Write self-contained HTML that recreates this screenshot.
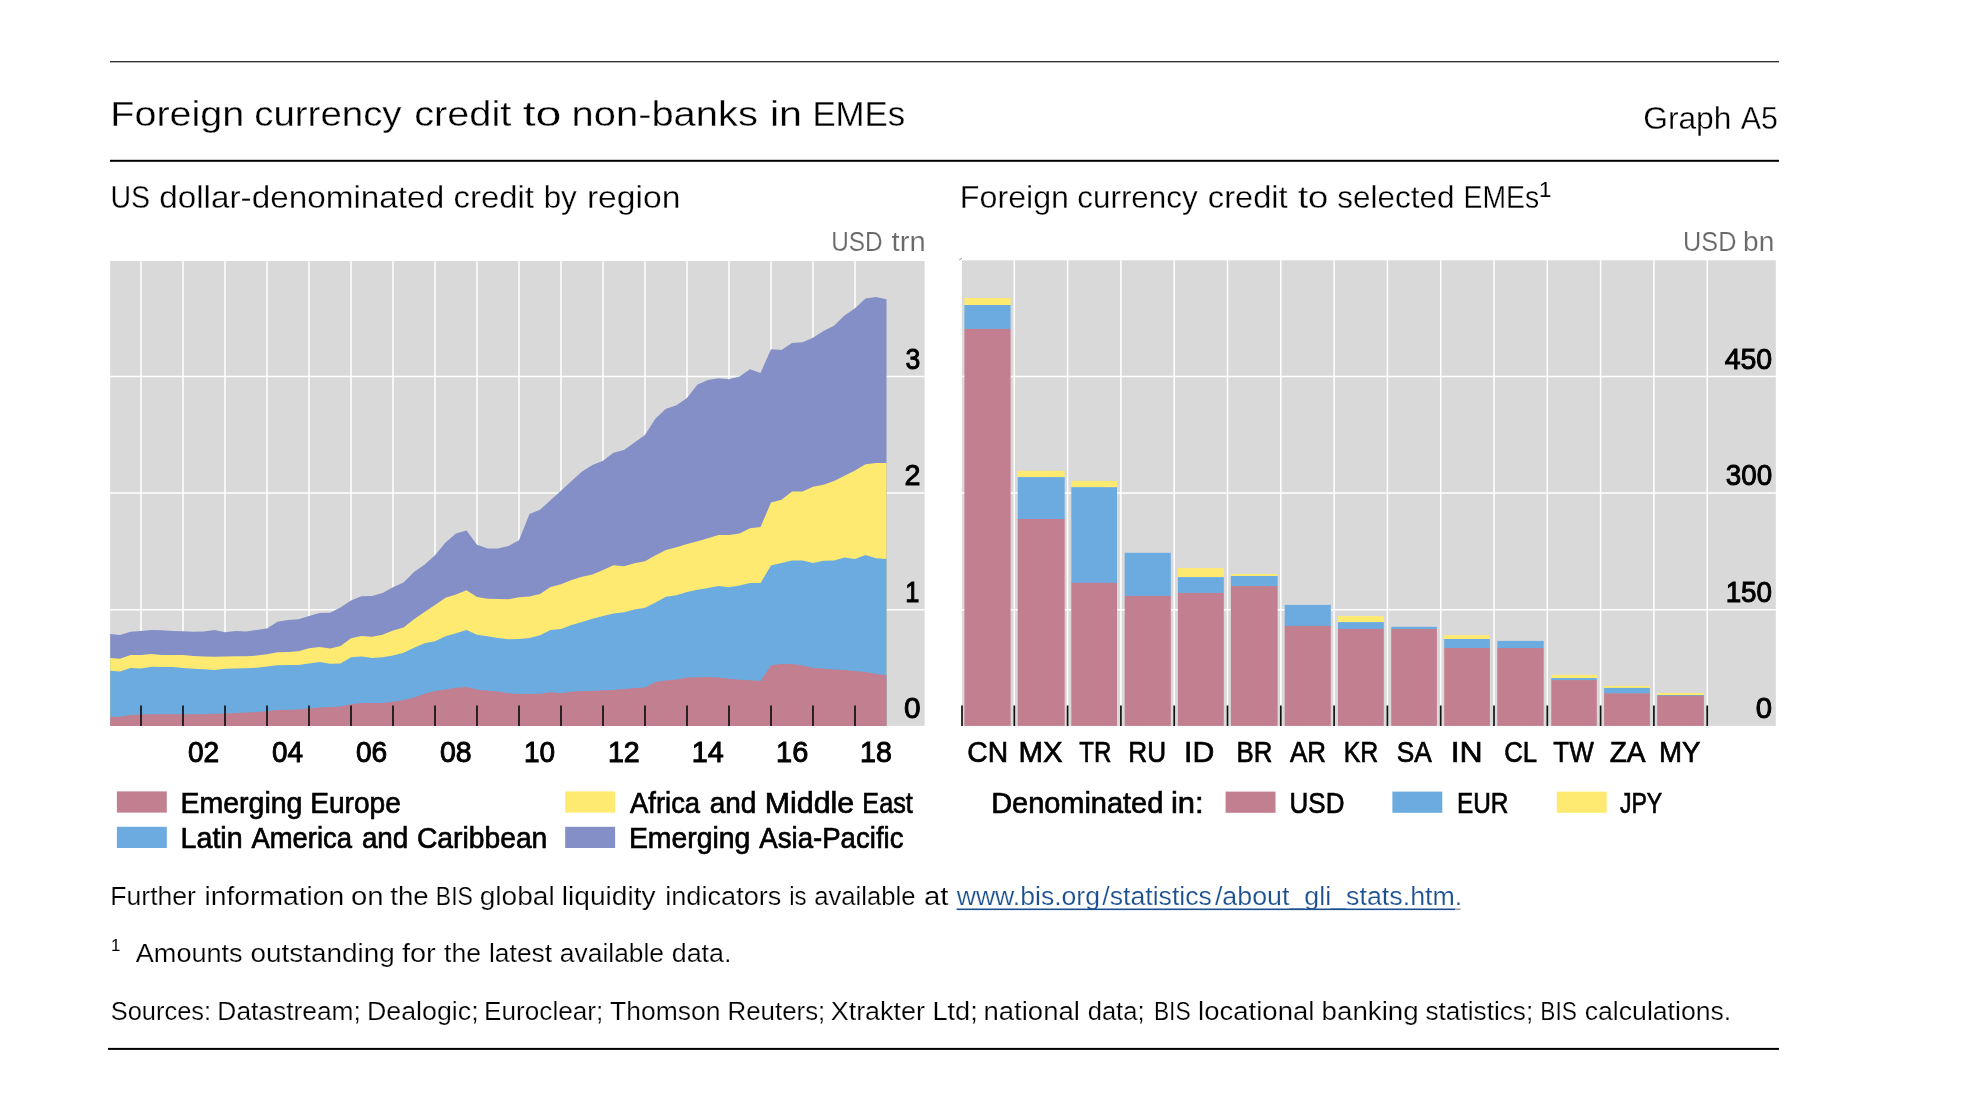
<!DOCTYPE html>
<html lang="en"><head><meta charset="utf-8"><title>Foreign currency credit to non-banks in EMEs</title>
<style>html,body{margin:0;padding:0;background:#fff;overflow:hidden}svg{display:block;will-change:transform}text{font-family:"Liberation Sans",sans-serif;fill:#000;stroke:#fff;stroke-width:.3px}.b{stroke:#000;stroke-width:.7px;font-size:30.4px}.d{font-size:28.6px;stroke-width:.95px}.g{fill:#6a6a6a;font-size:26.9px;stroke-width:.15px}.f{font-size:25px;stroke-width:.2px}.l{fill:#1b4f8f}.n{stroke:none}</style></head><body>
<svg width="1963" height="1101" viewBox="0 0 1963 1101">
<rect width="1963" height="1101" fill="#fff"/>
<rect x="110" y="61.2" width="1669" height="1.1" fill="#000"/>
<rect x="110" y="159.8" width="1669" height="2" fill="#000"/>
<rect x="108" y="1047.9" width="1671" height="2" fill="#000"/>
<text y="125.7" font-size="35.4px"><tspan x="110.31" textLength="133.90" lengthAdjust="spacingAndGlyphs">Foreign</tspan> <tspan x="254.20" textLength="147.40" lengthAdjust="spacingAndGlyphs">currency</tspan> <tspan x="414.16" textLength="97.11" lengthAdjust="spacingAndGlyphs">credit</tspan> <tspan x="522.70" textLength="38.68" lengthAdjust="spacingAndGlyphs">to</tspan> <tspan x="571.61" textLength="186.24" lengthAdjust="spacingAndGlyphs">non-banks</tspan> <tspan x="769.92" textLength="32.09" lengthAdjust="spacingAndGlyphs">in</tspan> <tspan x="812.38" textLength="92.81" lengthAdjust="spacingAndGlyphs">EMEs</tspan></text>
<text y="129.1" font-size="31.7px"><tspan x="1643.21" textLength="88.17" lengthAdjust="spacingAndGlyphs">Graph</tspan> <tspan x="1740.80" textLength="37.13" lengthAdjust="spacingAndGlyphs">A5</tspan></text>
<text y="207.6" font-size="31.4px"><tspan x="110.41" textLength="39.69" lengthAdjust="spacingAndGlyphs">US</tspan> <tspan x="159.16" textLength="285.01" lengthAdjust="spacingAndGlyphs">dollar-denominated</tspan> <tspan x="453.57" textLength="80.31" lengthAdjust="spacingAndGlyphs">credit</tspan> <tspan x="543.64" textLength="33.16" lengthAdjust="spacingAndGlyphs">by</tspan> <tspan x="586.90" textLength="93.60" lengthAdjust="spacingAndGlyphs">region</tspan></text>
<text y="207.6" font-size="31.4px"><tspan x="959.89" textLength="109.12" lengthAdjust="spacingAndGlyphs">Foreign</tspan> <tspan x="1077.32" textLength="120.38" lengthAdjust="spacingAndGlyphs">currency</tspan> <tspan x="1207.88" textLength="79.81" lengthAdjust="spacingAndGlyphs">credit</tspan> <tspan x="1298.00" textLength="30.38" lengthAdjust="spacingAndGlyphs">to</tspan> <tspan x="1337.31" textLength="117.26" lengthAdjust="spacingAndGlyphs">selected</tspan> <tspan x="1463.59" textLength="75.60" lengthAdjust="spacingAndGlyphs">EMEs</tspan></text>
<text x="1539.1" y="197.2" font-size="22.3px" class="n">1</text>
<text y="251.4" class="g"><tspan x="831.18" textLength="51.47" lengthAdjust="spacingAndGlyphs">USD</tspan> <tspan x="891.60" textLength="34.04" lengthAdjust="spacingAndGlyphs">trn</tspan></text>
<text y="251.4" class="g"><tspan x="1683.12" textLength="53.36" lengthAdjust="spacingAndGlyphs">USD</tspan> <tspan x="1743.05" textLength="31.23" lengthAdjust="spacingAndGlyphs">bn</tspan></text>
<rect x="110.2" y="261.0" width="814.4" height="464.9" fill="#d9d9d9"/>
<path d="M141 261.0V725.9M183 261.0V725.9M225 261.0V725.9M267 261.0V725.9M309 261.0V725.9M351 261.0V725.9M393 261.0V725.9M435 261.0V725.9M477 261.0V725.9M519 261.0V725.9M561 261.0V725.9M603 261.0V725.9M645 261.0V725.9M687 261.0V725.9M729 261.0V725.9M771 261.0V725.9M813 261.0V725.9M855 261.0V725.9M110.2 376.6H924.6M110.2 493.0H924.6M110.2 609.7H924.6" stroke="#fff" stroke-width="1.5" fill="none"/>
<path d="M110.2 633.9L120.0 634.9L130.5 631.7L141.0 630.9L151.5 630.1L162.0 630.3L172.5 630.9L183.0 631.2L193.5 631.7L204.0 631.4L214.5 630.1L225.0 632.2L235.5 630.9L246.0 631.4L256.5 629.9L267.0 628.4L277.5 621.8L288.0 620.0L298.5 619.2L309.0 615.9L319.5 613.1L330.0 612.7L340.5 607.4L351.0 600.5L361.5 596.3L372.0 595.9L382.5 592.9L393.0 587.3L403.5 582.6L414.0 571.9L424.5 564.8L435.0 555.3L445.5 542.5L456.0 533.4L466.5 530.5L477.0 544.8L487.5 548.6L498.0 548.6L508.5 546.0L519.0 540.2L529.5 514.1L540.0 509.7L550.5 500.2L561.0 490.7L571.5 481.1L582.0 471.6L592.5 464.9L603.0 460.7L613.5 452.7L624.0 450.0L634.5 442.4L645.0 435.0L655.5 418.4L666.0 408.8L676.5 405.2L687.0 398.1L697.5 384.5L708.0 379.9L718.5 378.2L729.0 379.3L739.5 376.5L750.0 369.2L760.5 373.0L771.0 349.2L781.5 350.1L792.0 342.9L802.5 342.3L813.0 337.7L823.5 331.1L834.0 325.7L844.5 315.6L855.0 308.2L865.5 298.6L876.0 296.9L886.5 299.2L886.5 725.9L110.2 725.9Z" fill="#838fc6"/>
<path d="M110.2 658.0L120.0 658.8L130.5 655.1L141.0 655.1L151.5 654.0L162.0 655.0L172.5 655.1L183.0 655.1L193.5 655.9L204.0 656.4L214.5 656.8L225.0 656.4L235.5 656.2L246.0 656.2L256.5 655.6L267.0 654.2L277.5 652.3L288.0 651.9L298.5 651.2L309.0 648.2L319.5 647.0L330.0 648.6L340.5 645.9L351.0 638.3L361.5 636.0L372.0 636.7L382.5 634.8L393.0 630.6L403.5 627.4L414.0 619.2L424.5 612.1L435.0 604.9L445.5 597.8L456.0 594.4L466.5 590.2L477.0 596.9L487.5 598.8L498.0 599.0L508.5 599.3L519.0 597.2L529.5 596.5L540.0 594.0L550.5 587.1L561.0 584.3L571.5 580.1L582.0 576.8L592.5 574.5L603.0 570.0L613.5 565.2L624.0 566.2L634.5 563.3L645.0 561.2L655.5 555.3L666.0 550.1L676.5 547.3L687.0 544.0L697.5 541.2L708.0 538.3L718.5 534.9L729.0 534.9L739.5 533.4L750.0 528.2L760.5 527.1L771.0 502.5L781.5 499.8L792.0 491.4L802.5 491.4L813.0 486.8L823.5 484.7L834.0 481.1L844.5 475.8L855.0 470.6L865.5 464.3L876.0 463.0L886.5 463.0L886.5 725.9L110.2 725.9Z" fill="#feea71"/>
<path d="M110.2 670.7L120.0 671.5L130.5 668.1L141.0 668.4L151.5 666.8L162.0 666.9L172.5 667.1L183.0 667.9L193.5 668.7L204.0 669.3L214.5 670.0L225.0 668.8L235.5 668.4L246.0 668.3L256.5 667.7L267.0 666.5L277.5 665.3L288.0 665.1L298.5 665.0L309.0 663.6L319.5 662.1L330.0 663.8L340.5 663.4L351.0 657.3L361.5 656.4L372.0 658.1L382.5 657.3L393.0 655.4L403.5 652.7L414.0 647.8L424.5 643.2L435.0 641.3L445.5 636.3L456.0 633.3L466.5 629.9L477.0 634.8L487.5 636.3L498.0 637.9L508.5 639.2L519.0 639.0L529.5 637.9L540.0 635.2L550.5 630.1L561.0 629.1L571.5 625.1L582.0 621.9L592.5 618.8L603.0 616.1L613.5 613.5L624.0 612.3L634.5 609.6L645.0 607.7L655.5 602.4L666.0 596.7L676.5 595.3L687.0 591.9L697.5 589.8L708.0 587.9L718.5 586.0L729.0 587.2L739.5 585.4L750.0 583.0L760.5 583.0L771.0 565.4L781.5 563.1L792.0 560.5L802.5 560.5L813.0 562.9L823.5 560.8L834.0 560.5L844.5 557.4L855.0 559.1L865.5 555.1L876.0 558.2L886.5 559.1L886.5 725.9L110.2 725.9Z" fill="#6cabe0"/>
<path d="M110.2 716.8L120.0 716.8L130.5 715.0L141.0 714.5L151.5 714.3L162.0 714.3L172.5 714.3L183.0 714.3L193.5 714.3L204.0 714.2L214.5 713.8L225.0 713.6L235.5 712.9L246.0 712.6L256.5 712.1L267.0 711.3L277.5 710.0L288.0 709.8L298.5 709.6L309.0 708.4L319.5 707.5L330.0 707.1L340.5 706.5L351.0 704.2L361.5 702.9L372.0 702.9L382.5 703.1L393.0 701.8L403.5 699.9L414.0 697.4L424.5 693.8L435.0 691.1L445.5 689.4L456.0 687.8L466.5 687.1L477.0 689.6L487.5 690.7L498.0 691.5L508.5 693.2L519.0 693.9L529.5 693.9L540.0 693.8L550.5 692.2L561.0 693.2L571.5 691.8L582.0 691.1L592.5 691.1L603.0 690.3L613.5 689.9L624.0 689.0L634.5 688.0L645.0 687.5L655.5 682.1L666.0 680.6L676.5 679.5L687.0 677.4L697.5 677.2L708.0 676.9L718.5 677.5L729.0 678.8L739.5 679.7L750.0 680.3L760.5 681.1L771.0 665.3L781.5 664.1L792.0 664.1L802.5 665.5L813.0 667.9L823.5 668.4L834.0 669.5L844.5 670.1L855.0 671.0L865.5 672.0L876.0 674.1L886.5 675.2L886.5 725.9L110.2 725.9Z" fill="#c27f90"/>
<path d="M141 705.5V725.9M183 705.5V725.9M225 705.5V725.9M267 705.5V725.9M309 705.5V725.9M351 705.5V725.9M393 705.5V725.9M435 705.5V725.9M477 705.5V725.9M519 705.5V725.9M561 705.5V725.9M603 705.5V725.9M645 705.5V725.9M687 705.5V725.9M729 705.5V725.9M771 705.5V725.9M813 705.5V725.9M855 705.5V725.9" stroke="#111" stroke-width="1.7" fill="none"/>
<text y="718.1" class="b d"><tspan x="903.95" textLength="16.60" lengthAdjust="spacingAndGlyphs">0</tspan></text>
<text y="601.7" class="b d"><tspan x="905.16" textLength="14.13" lengthAdjust="spacingAndGlyphs">1</tspan></text>
<text y="485.0" class="b d"><tspan x="904.43" textLength="15.96" lengthAdjust="spacingAndGlyphs">2</tspan></text>
<text y="368.6" class="b d"><tspan x="905.42" textLength="14.80" lengthAdjust="spacingAndGlyphs">3</tspan></text>
<text y="761.5" class="b d"><tspan x="187.99" textLength="31.28" lengthAdjust="spacingAndGlyphs">02</tspan> <tspan x="272.10" textLength="31.03" lengthAdjust="spacingAndGlyphs">04</tspan> <tspan x="355.99" textLength="31.28" lengthAdjust="spacingAndGlyphs">06</tspan> <tspan x="439.88" textLength="31.70" lengthAdjust="spacingAndGlyphs">08</tspan> <tspan x="523.92" textLength="31.11" lengthAdjust="spacingAndGlyphs">10</tspan> <tspan x="607.89" textLength="31.80" lengthAdjust="spacingAndGlyphs">12</tspan> <tspan x="691.88" textLength="31.96" lengthAdjust="spacingAndGlyphs">14</tspan> <tspan x="776.07" textLength="32.23" lengthAdjust="spacingAndGlyphs">16</tspan> <tspan x="860.09" textLength="31.80" lengthAdjust="spacingAndGlyphs">18</tspan></text>
<rect x="961.8" y="260.3" width="814.0" height="465.6" fill="#d9d9d9"/>
<path d="M959.3 259.9L961.9 258.4" stroke="#7a7a7a" stroke-width="0.9" fill="none"/>
<path d="M1014.3 260.3V725.9M1067.6 260.3V725.9M1120.9 260.3V725.9M1174.2 260.3V725.9M1227.5 260.3V725.9M1280.8 260.3V725.9M1334.1 260.3V725.9M1387.4 260.3V725.9M1440.7 260.3V725.9M1494.0 260.3V725.9M1547.3 260.3V725.9M1600.6 260.3V725.9M1653.9 260.3V725.9M1707.2 260.3V725.9M961.8 376.6H1775.8M961.8 493.0H1775.8M961.8 609.7H1775.8" stroke="#fff" stroke-width="1.5" fill="none"/>
<rect x="964.4" y="298.0" width="46.2" height="7.5" fill="#feea71"/>
<rect x="964.4" y="305.0" width="46.2" height="24.4" fill="#6cabe0"/>
<rect x="964.4" y="328.9" width="46.2" height="397.0" fill="#c27f90"/>
<rect x="1017.7" y="470.8" width="47.0" height="6.8" fill="#feea71"/>
<rect x="1017.7" y="477.1" width="47.0" height="42.4" fill="#6cabe0"/>
<rect x="1017.7" y="519.0" width="47.0" height="206.9" fill="#c27f90"/>
<rect x="1071.3" y="480.9" width="45.7" height="6.8" fill="#feea71"/>
<rect x="1071.3" y="487.2" width="45.7" height="96.1" fill="#6cabe0"/>
<rect x="1071.3" y="582.8" width="45.7" height="143.1" fill="#c27f90"/>
<rect x="1124.7" y="552.8" width="46.1" height="43.6" fill="#6cabe0"/>
<rect x="1124.7" y="595.9" width="46.1" height="130.0" fill="#c27f90"/>
<rect x="1177.9" y="568.1" width="45.9" height="9.5" fill="#feea71"/>
<rect x="1177.9" y="577.1" width="45.9" height="16.3" fill="#6cabe0"/>
<rect x="1177.9" y="592.9" width="45.9" height="133.0" fill="#c27f90"/>
<rect x="1230.9" y="574.1" width="46.7" height="2.4" fill="#feea71"/>
<rect x="1230.9" y="576.0" width="46.7" height="10.6" fill="#6cabe0"/>
<rect x="1230.9" y="586.1" width="46.7" height="139.8" fill="#c27f90"/>
<rect x="1284.7" y="604.9" width="46.1" height="21.5" fill="#6cabe0"/>
<rect x="1284.7" y="625.9" width="46.1" height="100.0" fill="#c27f90"/>
<rect x="1338.0" y="616.1" width="45.8" height="6.5" fill="#feea71"/>
<rect x="1338.0" y="622.1" width="45.8" height="7.3" fill="#6cabe0"/>
<rect x="1338.0" y="628.9" width="45.8" height="97.0" fill="#c27f90"/>
<rect x="1391.2" y="626.8" width="45.7" height="2.7" fill="#6cabe0"/>
<rect x="1391.2" y="629.0" width="45.7" height="96.9" fill="#c27f90"/>
<rect x="1444.2" y="635.1" width="45.7" height="4.4" fill="#feea71"/>
<rect x="1444.2" y="639.0" width="45.7" height="9.5" fill="#6cabe0"/>
<rect x="1444.2" y="648.0" width="45.7" height="77.9" fill="#c27f90"/>
<rect x="1497.3" y="640.9" width="46.4" height="7.6" fill="#6cabe0"/>
<rect x="1497.3" y="648.0" width="46.4" height="77.9" fill="#c27f90"/>
<rect x="1551.3" y="674.9" width="45.5" height="3.7" fill="#feea71"/>
<rect x="1551.3" y="678.1" width="45.5" height="2.5" fill="#6cabe0"/>
<rect x="1551.3" y="680.1" width="45.5" height="45.8" fill="#c27f90"/>
<rect x="1604.1" y="685.9" width="45.8" height="2.5" fill="#feea71"/>
<rect x="1604.1" y="687.9" width="45.8" height="5.9" fill="#6cabe0"/>
<rect x="1604.1" y="693.3" width="45.8" height="32.6" fill="#c27f90"/>
<rect x="1657.2" y="693.0" width="46.7" height="2.5" fill="#feea71"/>
<rect x="1657.2" y="695.0" width="46.7" height="1.2" fill="#6cabe0"/>
<rect x="1657.2" y="695.7" width="46.7" height="30.2" fill="#c27f90"/>
<path d="M962.0 705.5V725.9M1014.3 705.5V725.9M1067.6 705.5V725.9M1120.9 705.5V725.9M1174.2 705.5V725.9M1227.5 705.5V725.9M1280.8 705.5V725.9M1334.1 705.5V725.9M1387.4 705.5V725.9M1440.7 705.5V725.9M1494.0 705.5V725.9M1547.3 705.5V725.9M1600.6 705.5V725.9M1653.9 705.5V725.9M1707.2 705.5V725.9" stroke="#111" stroke-width="1.7" fill="none"/>
<text y="718.1" class="b d"><tspan x="1755.87" textLength="16.28" lengthAdjust="spacingAndGlyphs">0</tspan></text>
<text y="601.7" class="b d"><tspan x="1725.63" textLength="46.50" lengthAdjust="spacingAndGlyphs">150</tspan></text>
<text y="485.0" class="b d"><tspan x="1725.70" textLength="46.43" lengthAdjust="spacingAndGlyphs">300</tspan></text>
<text y="368.6" class="b d"><tspan x="1724.63" textLength="47.51" lengthAdjust="spacingAndGlyphs">450</tspan></text>
<text y="762.4" class="b"><tspan x="967.33" textLength="40.82" lengthAdjust="spacingAndGlyphs">CN</tspan> <tspan x="1018.57" textLength="44.08" lengthAdjust="spacingAndGlyphs">MX</tspan> <tspan x="1079.34" textLength="32.07" lengthAdjust="spacingAndGlyphs">TR</tspan> <tspan x="1128.29" textLength="37.80" lengthAdjust="spacingAndGlyphs">RU</tspan> <tspan x="1184.11" textLength="30.27" lengthAdjust="spacingAndGlyphs">ID</tspan> <tspan x="1236.52" textLength="35.84" lengthAdjust="spacingAndGlyphs">BR</tspan> <tspan x="1289.94" textLength="36.13" lengthAdjust="spacingAndGlyphs">AR</tspan> <tspan x="1343.68" textLength="34.56" lengthAdjust="spacingAndGlyphs">KR</tspan> <tspan x="1396.64" textLength="33.61" lengthAdjust="spacingAndGlyphs">SA</tspan> <tspan x="1450.69" textLength="32.04" lengthAdjust="spacingAndGlyphs">IN</tspan> <tspan x="1504.15" textLength="31.94" lengthAdjust="spacingAndGlyphs">CL</tspan> <tspan x="1553.23" textLength="40.49" lengthAdjust="spacingAndGlyphs">TW</tspan> <tspan x="1609.70" textLength="34.32" lengthAdjust="spacingAndGlyphs">ZA</tspan> <tspan x="1658.99" textLength="41.56" lengthAdjust="spacingAndGlyphs">MY</tspan></text>
<rect x="116.9" y="791.4" width="49.9" height="21.2" fill="#c27f90"/>
<rect x="116.9" y="826.8" width="49.9" height="21.2" fill="#6cabe0"/>
<rect x="565.2" y="791.4" width="49.9" height="21.2" fill="#feea71"/>
<rect x="565.2" y="826.8" width="49.9" height="21.2" fill="#838fc6"/>
<text y="812.9" class="b"><tspan x="180.53" textLength="121.91" lengthAdjust="spacingAndGlyphs">Emerging</tspan> <tspan x="310.16" textLength="90.73" lengthAdjust="spacingAndGlyphs">Europe</tspan></text>
<text y="847.8" class="b"><tspan x="180.52" textLength="62.13" lengthAdjust="spacingAndGlyphs">Latin</tspan> <tspan x="251.45" textLength="100.53" lengthAdjust="spacingAndGlyphs">America</tspan> <tspan x="361.88" textLength="46.43" lengthAdjust="spacingAndGlyphs">and</tspan> <tspan x="416.93" textLength="130.40" lengthAdjust="spacingAndGlyphs">Caribbean</tspan></text>
<text y="812.9" class="b"><tspan x="630.05" textLength="70.03" lengthAdjust="spacingAndGlyphs">Africa</tspan> <tspan x="709.78" textLength="46.64" lengthAdjust="spacingAndGlyphs">and</tspan> <tspan x="764.80" textLength="89.45" lengthAdjust="spacingAndGlyphs">Middle</tspan> <tspan x="862.36" textLength="50.43" lengthAdjust="spacingAndGlyphs">East</tspan></text>
<text y="847.8" class="b"><tspan x="628.94" textLength="121.40" lengthAdjust="spacingAndGlyphs">Emerging</tspan> <tspan x="759.35" textLength="144.13" lengthAdjust="spacingAndGlyphs">Asia-Pacific</tspan></text>
<text y="812.9" class="b"><tspan x="991.20" textLength="172.06" lengthAdjust="spacingAndGlyphs">Denominated</tspan> <tspan x="1170.95" textLength="32.67" lengthAdjust="spacingAndGlyphs">in:</tspan> <tspan x="1289.61" textLength="54.75" lengthAdjust="spacingAndGlyphs">USD</tspan> <tspan x="1456.91" textLength="51.51" lengthAdjust="spacingAndGlyphs">EUR</tspan> <tspan x="1619.95" textLength="42.29" lengthAdjust="spacingAndGlyphs">JPY</tspan></text>
<rect x="1225.6" y="791.6" width="49.9" height="21.2" fill="#c27f90"/>
<rect x="1392.4" y="791.6" width="49.9" height="21.2" fill="#6cabe0"/>
<rect x="1556.8" y="791.6" width="49.9" height="21.2" fill="#feea71"/>
<text y="904.6" class="f"><tspan x="110.38" textLength="85.57" lengthAdjust="spacingAndGlyphs">Further</tspan> <tspan x="204.49" textLength="139.82" lengthAdjust="spacingAndGlyphs">information</tspan> <tspan x="350.93" textLength="32.66" lengthAdjust="spacingAndGlyphs">on</tspan> <tspan x="390.27" textLength="38.35" lengthAdjust="spacingAndGlyphs">the</tspan> <tspan x="435.86" textLength="37.03" lengthAdjust="spacingAndGlyphs">BIS</tspan> <tspan x="479.67" textLength="75.09" lengthAdjust="spacingAndGlyphs">global</tspan> <tspan x="561.80" textLength="93.80" lengthAdjust="spacingAndGlyphs">liquidity</tspan> <tspan x="665.26" textLength="116.11" lengthAdjust="spacingAndGlyphs">indicators</tspan> <tspan x="789.16" textLength="17.41" lengthAdjust="spacingAndGlyphs">is</tspan> <tspan x="814.27" textLength="101.26" lengthAdjust="spacingAndGlyphs">available</tspan> <tspan x="923.92" textLength="24.55" lengthAdjust="spacingAndGlyphs">at</tspan></text>
<text y="904.6" class="f l"><tspan x="956.71" textLength="143.30" lengthAdjust="spacingAndGlyphs">www.bis.org</tspan><tspan x="1102.30" textLength="109.56" lengthAdjust="spacingAndGlyphs">/statistics</tspan><tspan x="1214.90" textLength="247.41" lengthAdjust="spacingAndGlyphs">/about_gli_stats.htm.</tspan></text>
<rect x="956.6" y="908.5" width="498.4" height="1.6" fill="#1b4f8f"/><rect x="1455" y="908.5" width="5.6" height="1.6" fill="#a0a0a0"/>
<text x="111.0" y="950.7" font-size="16.8px" class="n">1</text>
<text y="962.2" class="f"><tspan x="135.80" textLength="106.87" lengthAdjust="spacingAndGlyphs">Amounts</tspan> <tspan x="250.58" textLength="144.20" lengthAdjust="spacingAndGlyphs">outstanding</tspan> <tspan x="401.95" textLength="33.82" lengthAdjust="spacingAndGlyphs">for</tspan> <tspan x="444.08" textLength="36.89" lengthAdjust="spacingAndGlyphs">the</tspan> <tspan x="489.01" textLength="63.14" lengthAdjust="spacingAndGlyphs">latest</tspan> <tspan x="559.84" textLength="104.22" lengthAdjust="spacingAndGlyphs">available</tspan> <tspan x="671.72" textLength="59.79" lengthAdjust="spacingAndGlyphs">data.</tspan></text>
<text y="1020" class="f"><tspan x="110.68" textLength="100.41" lengthAdjust="spacingAndGlyphs">Sources:</tspan> <tspan x="217.39" textLength="143.47" lengthAdjust="spacingAndGlyphs">Datastream;</tspan> <tspan x="367.06" textLength="111.54" lengthAdjust="spacingAndGlyphs">Dealogic;</tspan> <tspan x="484.11" textLength="119.24" lengthAdjust="spacingAndGlyphs">Euroclear;</tspan> <tspan x="610.07" textLength="110.33" lengthAdjust="spacingAndGlyphs">Thomson</tspan> <tspan x="727.43" textLength="97.90" lengthAdjust="spacingAndGlyphs">Reuters;</tspan> <tspan x="830.66" textLength="94.39" lengthAdjust="spacingAndGlyphs">Xtrakter</tspan> <tspan x="932.43" textLength="45.31" lengthAdjust="spacingAndGlyphs">Ltd;</tspan> <tspan x="983.54" textLength="96.28" lengthAdjust="spacingAndGlyphs">national</tspan> <tspan x="1087.68" textLength="56.82" lengthAdjust="spacingAndGlyphs">data;</tspan> <tspan x="1153.88" textLength="36.70" lengthAdjust="spacingAndGlyphs">BIS</tspan> <tspan x="1198.14" textLength="116.28" lengthAdjust="spacingAndGlyphs">locational</tspan> <tspan x="1321.63" textLength="96.95" lengthAdjust="spacingAndGlyphs">banking</tspan> <tspan x="1425.47" textLength="107.78" lengthAdjust="spacingAndGlyphs">statistics;</tspan> <tspan x="1540.29" textLength="36.48" lengthAdjust="spacingAndGlyphs">BIS</tspan> <tspan x="1584.73" textLength="146.56" lengthAdjust="spacingAndGlyphs">calculations.</tspan></text>
</svg></body></html>
